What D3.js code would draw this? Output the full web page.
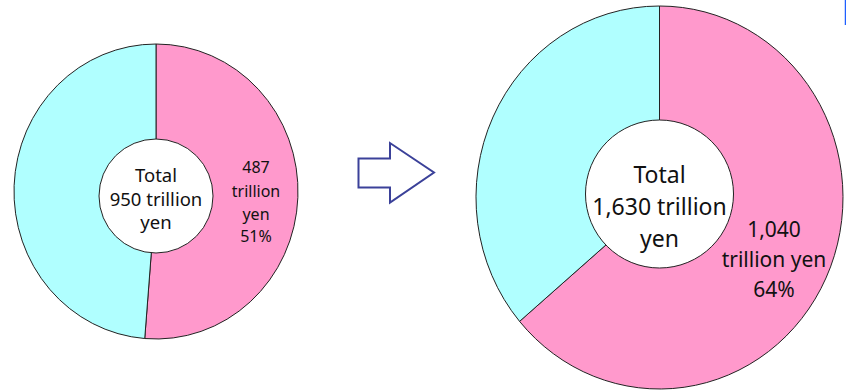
<!DOCTYPE html>
<html>
<head>
<meta charset="utf-8">
<script src="https://cdn.jsdelivr.net/npm/d3@7"></script>
<style>
  html, body { margin: 0; padding: 0; background: #fff; }
  svg { display: block; }
  text { font-family: "Noto Sans", sans-serif; fill: #111; }
</style>
</head>
<body>
<svg id="chart"></svg>
<script>
// data
const periods = ['before', 'after'];
const totals = [950, 1630];          // trillion yen
const pinkValues = [487, 1040];      // trillion yen
const unit = 'trillion';

const width = 846;
const height = 392;
const pinkColor = '#ff99cc';
const cyanColor = '#b0ffff';

// layout of each donut (positions only)
const layout = [
  { cx: 156, cy: 191.5, rx: 142, ry: 147.5, inCx: 156, inCy: 196, inR: 57,
    centerSize: 18.5, centerLines: [181.5, 206, 229],
    labelX: 256, labelSize: 16, labelLines: [172.5, 196.5, 220, 242] },
  { cx: 659.5, cy: 197.5, rx: 183.5, ry: 191.5, inCx: 659.5, inCy: 194, inR: 74,
    centerSize: 23, centerLines: [183, 215, 247],
    labelX: 774, labelSize: 21, labelLines: [237, 267, 297] }
];

const svg = d3.select('#chart')
  .attr('width', width)
  .attr('height', height);

const pie = d3.pie().sort(null).value(d => d);
const fmt = d3.format(',');

periods.forEach((p, i) => {
  const L = layout[i];
  const pink = pinkValues[i];
  const rest = totals[i] - pink;
  const arcs = pie([pink, rest]);
  const arc = d3.arc().innerRadius(0).outerRadius(L.ry);

  const g = svg.append('g')
    .attr('transform', `translate(${L.cx},${L.cy}) scale(${L.rx / L.ry},1)`);

  g.selectAll('path')
    .data(arcs)
    .enter()
    .append('path')
    .attr('d', arc)
    .attr('fill', (d, j) => j === 0 ? pinkColor : cyanColor)
    .attr('stroke', '#222')
    .attr('stroke-width', 1)
    .attr('vector-effect', 'non-scaling-stroke');

  svg.append('circle')
    .attr('cx', L.inCx)
    .attr('cy', L.inCy)
    .attr('r', L.inR)
    .attr('fill', '#fff')
    .attr('stroke', '#222')
    .attr('stroke-width', 1);

  const centerText = ['Total', `${fmt(totals[i])} ${unit}`, 'yen'];
  centerText.forEach((t, k) => {
    svg.append('text')
      .attr('x', L.inCx)
      .attr('y', L.centerLines[k])
      .attr('text-anchor', 'middle')
      .style('font-size', L.centerSize + 'px')
      .text(t);
  });

  const pct = Math.round(pink / totals[i] * 100) + '%';
  const labelText = i === 0
    ? [fmt(pink), unit, 'yen', pct]
    : [fmt(pink), `${unit} yen`, pct];
  labelText.forEach((t, k) => {
    svg.append('text')
      .attr('x', L.labelX)
      .attr('y', L.labelLines[k])
      .attr('text-anchor', 'middle')
      .style('font-size', L.labelSize + 'px')
      .text(t);
  });
});

// arrow between the two donuts
const arrow = [[358.5, 158.5], [390, 158.5], [390, 143], [434, 172.5],
               [390, 202.5], [390, 187.5], [358.5, 187.5]];
svg.append('path')
  .attr('d', d3.line()(arrow) + 'Z')
  .attr('fill', '#fff')
  .attr('stroke', '#3b4199')
  .attr('stroke-width', 2)
  .attr('stroke-linejoin', 'miter');

// thin blue edge at the top right corner
svg.append('line')
  .attr('x1', 845.5).attr('x2', 845.5)
  .attr('y1', 0).attr('y2', 25)
  .attr('stroke', '#1f5fff')
  .attr('stroke-width', 1.5);
</script>
</body>
</html>
